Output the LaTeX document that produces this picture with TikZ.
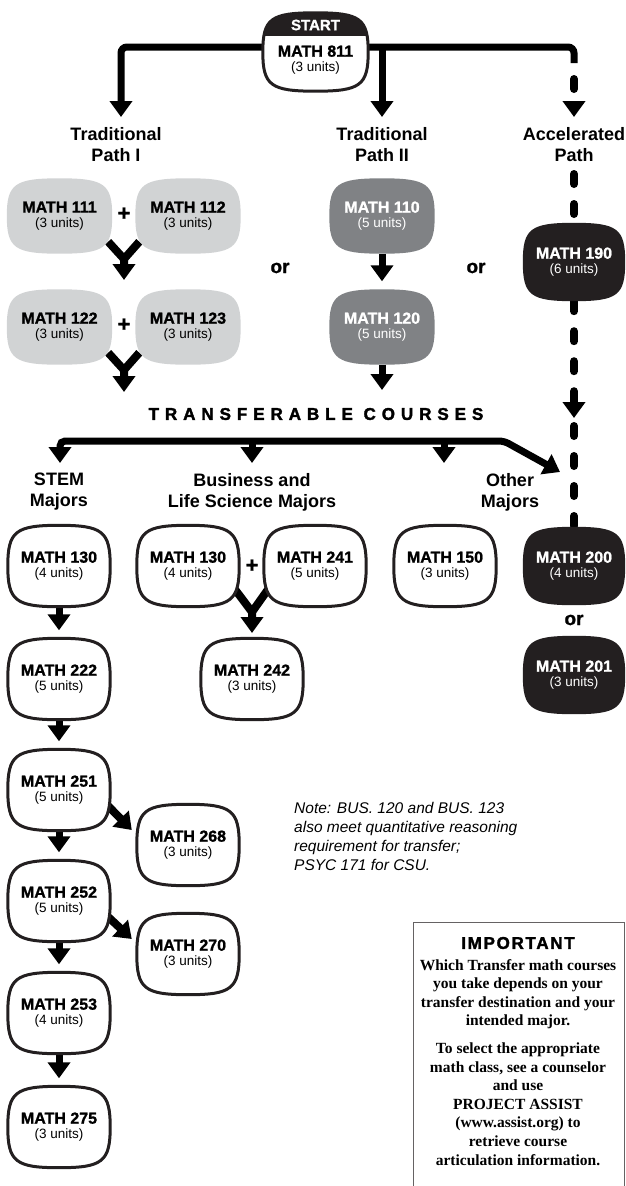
\documentclass[tikz,border=0pt]{standalone}
\usepackage{fontspec}
\setmainfont{Liberation Sans}
\newfontfamily\boxserif{Liberation Serif}
\newfontfamily\heavyfont[BoldFeatures={FakeBold=1.2}]{Liberation Sans}
\newfontfamily\spacedfont[LetterSpace=35, BoldFeatures={FakeBold=2}]{Liberation Sans}
\newfontfamily\widefont[LetterSpace=10, BoldFeatures={FakeBold=1.8}]{Liberation Sans}
\usetikzlibrary{arrows.meta,calc}

\definecolor{lightgr}{HTML}{D1D3D4}
\definecolor{darkgr}{HTML}{808285}
\definecolor{ink}{HTML}{231F20}

\pgfdeclarelayer{lines}
\pgfdeclarelayer{boxes}
\pgfsetlayers{lines,boxes,main}

% course text and course outline
\newcommand\crs[2]{{\heavyfont\fontsize{16}{17}\selectfont\bfseries #1}\\[3pt]{\fontsize{13.5}{15}\selectfont (#2 units)}}
\newcommand\crsoutline[1]{(#1.north) .. controls ($(#1.north)!0.85!(#1.north east)$) and ($(#1.east)!0.85!(#1.north east)$) .. (#1.east)
  .. controls ($(#1.east)!0.85!(#1.south east)$) and ($(#1.south)!0.85!(#1.south east)$) .. (#1.south)
  .. controls ($(#1.south)!0.85!(#1.south west)$) and ($(#1.west)!0.85!(#1.south west)$) .. (#1.west)
  .. controls ($(#1.west)!0.85!(#1.north west)$) and ($(#1.north)!0.85!(#1.north west)$) .. cycle}
\newcommand\crsshape[2]{%
\begin{pgfonlayer}{boxes}
\path[#2] \crsoutline{#1};
\end{pgfonlayer}}

\tikzset{
  crs/.style={minimum width=102pt, minimum height=81pt, inner sep=0pt, align=center},
  graycrs/.style={crs, minimum width=105pt, minimum height=75pt},
  pathlbl/.style={align=center, font=\fontsize{18}{21}\selectfont\bfseries},
  orlbl/.style={font=\heavyfont\fontsize{19}{20}\selectfont\bfseries},
  plussign/.style={font=\heavyfont\fontsize{22}{22}\selectfont\bfseries},
  conn/.style={line width=7pt, -{Triangle[width=22pt,length=16pt]}},
  dashconn/.style={line width=8pt, line cap=round, dash pattern=on 10pt off 20pt},
  ymerge/.style={line width=8pt, -{Triangle[width=22pt,length=16pt]}},
}

\begin{document}
\begin{tikzpicture}[x=1pt,y=-1pt]
\useasboundingbox (0,0) rectangle (626,1186);

% to draw start box
\node[crs, minimum width=105pt, minimum height=78pt] (start) at (315.5,52) {};
\node[text=white, font=\heavyfont\fontsize{15}{16}\selectfont\bfseries] (startlbl) at (315.5,25) {START};
\node[align=center] (m811) at (315.5,60) {\crs{MATH 811}{3}};
\begin{pgfonlayer}{boxes}
\path[fill=white] \crsoutline{start};
\begin{scope}
\clip ([yshift=5pt]start.north west) rectangle ([yshift=-23pt]start.north east);
\path[fill=ink] \crsoutline{start};
\end{scope}
\path[draw=ink, line width=3pt] \crsoutline{start};
\end{pgfonlayer}

% to write the three paths
\node[pathlbl] (path1) at (116,145) {Traditional\\Path I};
\node[pathlbl] (path2) at (382,145) {Traditional\\Path II};
\node[pathlbl] (path3) at (574,145) {Accelerated\\Path};

\coordinate (trunk) at (315.5,47);
\coordinate (a1) at (121,117);
\coordinate (a2) at (382,117);
\coordinate (a3) at (574,117);
\coordinate (a3b) at (574,174);
\coordinate (a4) at (574,418);
\coordinate (a4b) at (574,426);

%Traditional path I:
\node[graycrs] (m111) at (59.5,216) {\crs{MATH 111}{3}};
\node[graycrs] (m112) at (188,216) {\crs{MATH 112}{3}};
\node[plussign] (plus1) at (124,214) {+};
\node[graycrs] (m122) at (59.5,327) {\crs{MATH 122}{3}};
\node[graycrs] (m123) at (188,327) {\crs{MATH 123}{3}};
\node[plussign] (plus2) at (124,325) {+};
\coordinate (j1) at (124,259);
\coordinate (y1) at (124,280);
\coordinate (j2) at (124,370);
\coordinate (y2) at (124,392);

%Traditional path II:
\node[graycrs, text=white] (m110) at (382,216) {\crs{MATH 110}{5}};
\node[graycrs, text=white] (m120) at (382,327) {\crs{MATH 120}{5}};
\coordinate (y3) at (382,390);

%Accelerated path:
\node[crs, text=white, minimum height=78pt] (m190) at (574,262) {\crs{MATH 190}{6}};
\node[orlbl] (or1) at (280,268) {or};
\node[orlbl] (or2) at (476,268) {or};

% to write transferable courses
\node[font=\spacedfont\fontsize{17}{18}\selectfont\bfseries] (transfer) at (316,414) {TRANSFERABLE COURSES};
\coordinate (busl) at (60,441);
\coordinate (busr) at (504,441);
\coordinate (t1) at (60,463);
\coordinate (t2) at (252,463);
\coordinate (t3) at (444,463);
\coordinate (t4) at (560,472);
\node[pathlbl] (stem) at (59,492) {STEM\\Majors};
\node[pathlbl] (busi) at (252,492) {Business and\\Life Science Majors};
\node[pathlbl] (other) at (510,492) {Other\\Majors};

%STEM majors:
\node[crs] (s130) at (59,566) {\crs{MATH 130}{4}};
\node[crs] (s222) at (59,679) {\crs{MATH 222}{5}};
\node[crs] (s251) at (59,790) {\crs{MATH 251}{5}};
\node[crs] (s252) at (59,901) {\crs{MATH 252}{5}};
\node[crs] (s253) at (59,1013) {\crs{MATH 253}{4}};
\node[crs] (s275) at (59,1127) {\crs{MATH 275}{3}};
\node[crs] (m268) at (188,845) {\crs{MATH 268}{3}};
\node[crs] (m270) at (188,954) {\crs{MATH 270}{3}};

%Business and other majors:
\node[crs] (b130) at (188,566) {\crs{MATH 130}{4}};
\node[crs] (b241) at (315,566) {\crs{MATH 241}{5}};
\node[plussign] (plus3) at (252,566) {+};
\node[crs] (m242) at (252,679) {\crs{MATH 242}{3}};
\coordinate (j3) at (252,612);
\coordinate (y4) at (252,633);
\node[crs] (m150) at (445,566) {\crs{MATH 150}{3}};
\node[crs, text=white, minimum height=78pt] (m200) at (574,566) {\crs{MATH 200}{4}};
\node[orlbl] (or3) at (574,620) {or};
\node[crs, text=white, minimum height=78pt] (m201) at (574,675) {\crs{MATH 201}{3}};

% to draw box outlines
\foreach \n in {m111,m112,m122,m123} {\crsshape{\n}{fill=lightgr}}
\foreach \n in {m110,m120} {\crsshape{\n}{fill=darkgr}}
\foreach \n in {m190,m200,m201} {\crsshape{\n}{fill=ink}}
\foreach \n in {s130,s222,s251,s252,s253,s275,m268,m270,b130,b241,m242,m150} {\crsshape{\n}{fill=white, draw=ink, line width=3pt}}

% to draw arrows
\begin{pgfonlayer}{lines}
\draw[conn, rounded corners=6pt] (trunk) -| (a1);
\draw[conn] (a2 |- trunk) -- (a2);
\draw[line width=7pt, rounded corners=6pt] (trunk) -| ([yshift=-16pt]a3 |- trunk);
\draw[dashconn, -{Triangle[width=22pt,length=16pt]}] ([yshift=-32pt]a3 |- trunk) -- (a3);
\draw[dashconn] (a3b) -- (m190.north);
\draw[dashconn, -{Triangle[width=22pt,length=16pt]}] (m190.south) -- (a4);
\draw[dashconn] (a4b) -- (m200.north);

\draw[ymerge] ([shift={(-4pt,12pt)}]m111.south east) -- (j1) -- (y1);
\draw[line width=8pt] ([shift={(4pt,12pt)}]m112.south west) -- (j1);
\draw[ymerge] ([shift={(-4pt,12pt)}]m122.south east) -- (j2) -- (y2);
\draw[line width=8pt] ([shift={(4pt,12pt)}]m123.south west) -- (j2);
\draw[conn] (m110.south) -- ([yshift=8pt]m120.north);
\draw[conn] (m120.south) -- (y3);

\draw[line width=7pt, {Triangle[width=22pt,length=16pt]}-{Triangle[width=22pt,length=16pt]}, rounded corners=5pt] (t1) -- (busl) -- (busr) -- (t4);
\draw[conn] (t2 |- busl) -- (t2);
\draw[conn] (t3 |- busl) -- (t3);

\draw[ymerge] ([shift={(-4pt,17pt)}]b130.south east) -- (j3) -- (y4);
\draw[line width=8pt] ([shift={(4pt,17pt)}]b241.south west) -- (j3);

\draw[conn] (s130.south) -- ([yshift=8pt]s222.north);
\draw[conn] (s222.south) -- ([yshift=8pt]s251.north);
\draw[conn] (s251.south) -- ([yshift=8pt]s252.north);
\draw[conn] (s252.south) -- ([yshift=8pt]s253.north);
\draw[conn] (s253.south) -- ([yshift=8pt]s275.north);
\draw[conn, line width=8pt, line cap=round] ([shift={(-3pt,-15pt)}]s251.east) -- ([shift={(-5pt,15pt)}]m268.west);
\draw[conn, line width=8pt, line cap=round] ([shift={(-3pt,-15pt)}]s252.east) -- ([shift={(-5pt,15pt)}]m270.west);
\end{pgfonlayer}

% to write the note
\node[align=left, anchor=north west, inner sep=0pt, font=\fontsize{15.5}{19}\selectfont\itshape] (note) at (294,802)
  {Note: BUS. 120 and BUS. 123\\also meet quantitative reasoning\\requirement for transfer;\\PSYC 171 for CSU.};

% to draw important box
\node[draw=ink!70, line width=1pt, minimum width=211pt, minimum height=266pt, anchor=north west, inner sep=0pt] (important) at (413,922) {};
\node[font=\widefont\fontsize{17}{18}\selectfont\bfseries] (imphead) at (518,943) {IMPORTANT};
\node[align=center, anchor=north, inner sep=0pt, font=\boxserif\fontsize{15.5}{18.6}\selectfont\bfseries] (imptext) at (518,959)
  {Which Transfer math courses\\you take depends on your\\transfer destination and your\\intended major.\\[9pt]
   To select the appropriate\\math class, see a counselor\\and use\\PROJECT ASSIST\\(www.assist.org) to\\retrieve course\\articulation information.};
\end{tikzpicture}
\end{document}
